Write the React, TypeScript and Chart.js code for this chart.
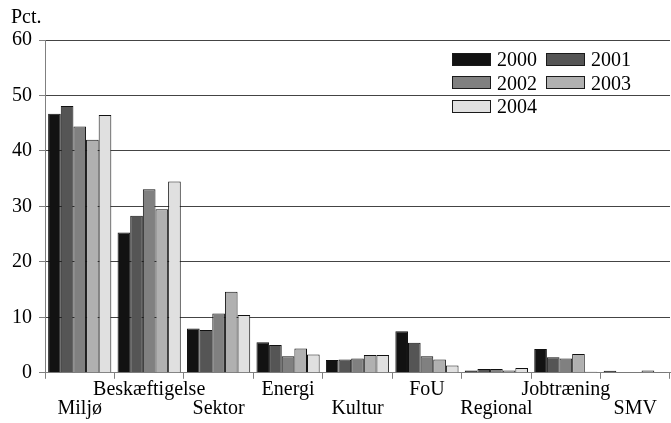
import React, { useEffect, useRef } from 'react';
import { Chart, registerables } from 'chart.js';
Chart.register(...registerables);

const categories = ['Miljø', 'Beskæftigelse', 'Sektor', 'Energi', 'Kultur', 'FoU', 'Regional', 'Jobtræning', 'SMV'];
const years = ['2000', '2001', '2002', '2003', '2004'];
const v2000 = [46.7, 25.3, 8.0, 5.5, 2.3, 7.5, 0.4, 4.3, 0.35];
const v2001 = [48.1, 28.3, 7.7, 5.0, 2.4, 5.4, 0.7, 2.8, 0.15];
const v2002 = [44.4, 33.1, 10.7, 3.0, 2.6, 3.0, 0.7, 2.6, 0.15];
const v2003 = [42.0, 29.5, 14.6, 4.4, 3.2, 2.4, 0.4, 3.4, 0.4];
const v2004 = [46.5, 34.5, 10.4, 3.3, 3.2, 1.3, 0.85, 0.2, 0.15];
const yTicks = [0, 10, 20, 30, 40, 50, 60];
const colors = ['#121212', '#555555', '#808080', '#b0b0b0', '#e0e0e0'];

const FONT = '"Liberation Serif", "Times New Roman", serif';

export default function App() {
  const ref = useRef<HTMLCanvasElement>(null);
  useEffect(() => {
    document.body.style.margin = '0';
    const series = [v2000, v2001, v2002, v2003, v2004];
    const chart = new Chart(ref.current!, {
      type: 'bar',
      data: {
        labels: categories,
        datasets: series.map((d, i) => ({
          label: years[i],
          data: d,
          backgroundColor: colors[i],
          borderColor: '#111',
          borderWidth: 1,
          categoryPercentage: 0.91,
          barPercentage: 1,
        })),
      },
      options: {
        animation: false,
        responsive: false,
        maintainAspectRatio: false,
        layout: { padding: { left: 11, right: 1, top: 0, bottom: 3 } },
        plugins: {
          legend: { display: false },
          tooltip: { enabled: false },
          title: {
            display: true,
            text: 'Pct.',
            align: 'start',
            color: '#000',
            font: { family: FONT, size: 20, weight: 'normal', lineHeight: 1 },
            padding: { top: 8, bottom: 12 },
          },
        },
        scales: {
          x: {
            grid: {
              display: true,
              drawOnChartArea: false,
              drawTicks: true,
              tickLength: 6,
              color: '#808080',
              offset: true,
            },
            border: { display: true, color: '#808080', width: 1 },
            ticks: {
              color: '#000',
              padding: 2,
              maxRotation: 0,
              autoSkip: false,
              font: { family: FONT, size: 20, lineHeight: 0.93 },
              callback: function (this: any, value: any, index: number) {
                const l = this.getLabelForValue(value);
                return index % 2 === 0 ? ['', l] : [l, ''];
              },
            },
          },
          y: {
            min: 0,
            max: 60,
            afterBuildTicks: (axis: any) => {
              axis.ticks = yTicks.map((v) => ({ value: v }));
            },
            afterFit: (axis: any) => {
              axis.width = 34;
            },
            grid: {
              color: (ctx: any) => (ctx.tick && ctx.tick.value === 0 ? 'rgba(0,0,0,0)' : '#444'),
              tickColor: '#808080',
              borderDash: [4, 2.5],
              tickBorderDash: [],
              drawTicks: true,
              tickLength: 6,
              lineWidth: 1,
            },
            border: { display: true, color: '#808080', width: 1 },
            ticks: {
              color: '#000',
              padding: 7,
              font: { family: FONT, size: 20 },
            },
          },
        },
      },
    } as any);
    return () => chart.destroy();
  }, []);

  return (
    <div style={{ position: 'relative', width: 671, height: 423 }}>
      <canvas ref={ref} width={671} height={423} style={{ display: 'block' }} />
      <div style={{ position: 'absolute', left: 452, top: 47, width: 200, height: 80 }}>
        {years.map((y, i) => (
          <div
            key={y}
            style={{
              position: 'absolute',
              left: (i % 2) * 94,
              top: Math.floor(i / 2) * 23.5,
              display: 'flex',
              alignItems: 'center',
              height: 24,
            }}
          >
            <div
              style={{
                width: 37,
                height: 11,
                background: colors[i],
                border: '1px solid #1a1a1a',
                marginRight: 6,
              }}
            />
            <span style={{ fontFamily: FONT, fontSize: 20, color: '#000', lineHeight: '24px' }}>{y}</span>
          </div>
        ))}
      </div>
    </div>
  );
}
